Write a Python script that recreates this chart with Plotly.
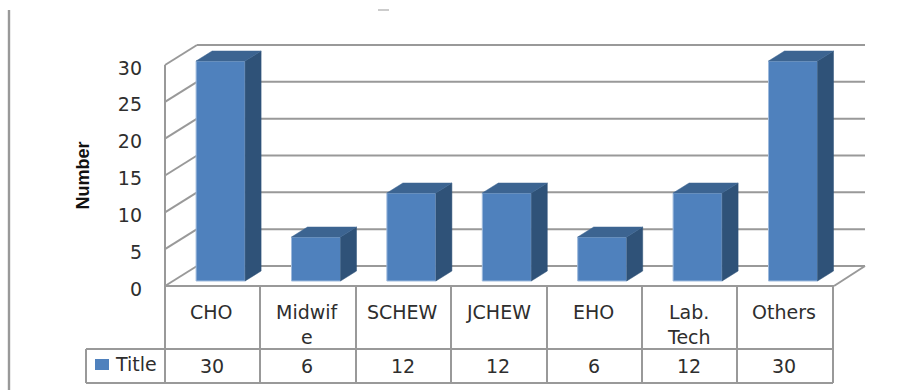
# Staff cadre counts: pseudo-3D column chart with an attached data table.
import plotly.graph_objects as go

categories = [["CHO"], ["Midwif", "e"], ["SCHEW"], ["JCHEW"], ["EHO"], ["Lab.", "Tech"], ["Others"]]
values = [30, 6, 12, 12, 6, 12, 30]
series_name = "Title"
y_ticks = [0, 5, 10, 15, 20, 25, 30]
axis_title = "Number"

W, H = 911, 390
FONT = "DejaVu Sans"
GREY = "#999999"
TEXT = "#2e2e2e"
FRONT, SIDE, TOP = "#4F81BD", "#2F5278", "#3C6491"
FONT_SIZE = 19

# Horizontal scale: one category per unit, integers sit on the column centres.
PX_X0, PX_PER_CAT = 220.6, 95.4
x_range = [-PX_X0 / PX_PER_CAT, (W - PX_X0) / PX_PER_CAT]


def xu(px):
    return (px - PX_X0) / PX_PER_CAT


# Front wall scale carries the tick labels, column scale sits slightly behind it.
wall_unit = 221 / 30
bar_unit = 220 / 30
wall_range = [-(H - 286) / wall_unit, 286 / wall_unit]
bar_range = [-(H - 281) / bar_unit, 281 / bar_unit]

half = 49 / 95.4 / 2
depth_x = 16 / PX_PER_CAT
depth_y = 10 / bar_unit
x_front_l, x_back_l, x_front_r, x_back_r = xu(165), xu(197), xu(834), xu(865)
wall_rise = 20 / wall_unit

fig = go.Figure()

# Flat front faces of the columns.
xs = list(range(len(values)))
fig.add_trace(go.Bar(
    x=xs, y=values, width=2 * half, yaxis="y2", name=series_name,
    marker=dict(color=FRONT, line=dict(color="#9DB9DC", width=1)),
    hoverinfo="skip",
))

# Side and top faces, offset from each column's value.
for x, v in zip(xs, values):
    r = x + half
    l = x - half
    fig.add_trace(go.Scatter(
        x=[r, r + depth_x, r + depth_x, r, r],
        y=[0, depth_y, v + depth_y, v, 0],
        yaxis="y2", mode="lines", fill="toself", fillcolor=SIDE,
        line=dict(color=SIDE, width=0.5), hoverinfo="skip",
    ))
    fig.add_trace(go.Scatter(
        x=[l, l + depth_x, r + depth_x, r, l],
        y=[v, v + depth_y, v + depth_y, v, v],
        yaxis="y2", mode="lines", fill="toself", fillcolor=TOP,
        line=dict(color=TOP, width=0.5), hoverinfo="skip",
    ))

shapes = []


def seg(x0, y0, x1, y1, xref="x", yref="y", layer="below", width=2):
    shapes.append(dict(type="line", x0=x0, y0=y0, x1=x1, y1=y1, xref=xref, yref=yref,
                       layer=layer, line=dict(color=GREY, width=width)))


# Walls and gridlines behind the columns.
for t in y_ticks:
    seg(x_front_l, t, x_back_l, t + wall_rise)
    if t > 0:
        seg(x_back_l, t + wall_rise, x_back_r, t + wall_rise)
seg(x_front_l, 0, x_front_l, y_ticks[-1])
seg(x_back_l, wall_rise, x_back_r, wall_rise)
seg(x_back_r, wall_rise, x_front_r, 0)
seg(x_front_l, 0, x_front_r, 0)

# Data table grid, measured in paper fractions.
def px(p):
    return p / W


def py(p):
    return 1 - p / H


TABLE_L, ROW_TOP, ROW_MID, ROW_BOT = 86, 286, 349, 383
col_edges = [165, 260, 356, 451, 547, 642, 737, 833]
for e in col_edges:
    seg(px(e), py(ROW_TOP), px(e), py(ROW_BOT), "paper", "paper", "above")
seg(px(TABLE_L), py(ROW_MID), px(TABLE_L), py(ROW_BOT), "paper", "paper", "above")
seg(px(TABLE_L), py(ROW_MID), px(833), py(ROW_MID), "paper", "paper", "above")
seg(px(TABLE_L), py(ROW_BOT), px(833), py(ROW_BOT), "paper", "paper", "above")

# Page rule on the left and the clipped stroke at the top.
seg(px(9), py(10), px(9), py(390), "paper", "paper", "below", 2.4)
seg(px(378), py(10), px(389), py(10), "paper", "paper", "below", 1)

# Legend key.
shapes.append(dict(type="rect", xref="paper", yref="paper", x0=px(95), x1=px(109),
                   y0=py(370), y1=py(359), fillcolor=FRONT, line=dict(width=0), layer="above"))

annotations = []


def note(text, x, y, size=FONT_SIZE, xanchor="center"):
    annotations.append(dict(text=text, x=px(x), y=py(y), xref="paper", yref="paper",
                            showarrow=False, xanchor=xanchor, yanchor="middle",
                            font=dict(family=FONT, size=size, color=TEXT)))


# Table text.
for i, (lines, v) in enumerate(zip(categories, values)):
    cx = (col_edges[i] + col_edges[i + 1]) / 2
    for j, line in enumerate(lines):
        note(line, cx - 1, 312 + 25 * j)
    note(str(v), cx - 1, 366)
note(series_name, 113, 364, size=19, xanchor="left")

# Rotated axis title.
annotations.append(dict(text=f"<b>{axis_title}</b>", x=px(83), y=py(175.5), xref="paper", yref="paper",
                        showarrow=False, textangle=-90, xanchor="center", yanchor="middle",
                        font=dict(family="Liberation Sans", size=18, color="#111111")))

fig.update_layout(
    width=W, height=H, margin=dict(l=0, r=0, t=0, b=0),
    paper_bgcolor="white", plot_bgcolor="white", showlegend=False,
    xaxis=dict(range=x_range, visible=False, domain=[0, 1]),
    yaxis=dict(range=wall_range, domain=[0, 1], anchor="free", position=px(142), side="left",
               tickvals=y_ticks, ticks="", showline=False, showgrid=False, zeroline=False,
               ticklabelshift=3,
               tickfont=dict(family=FONT, size=FONT_SIZE, color=TEXT)),
    yaxis2=dict(range=bar_range, overlaying="y", visible=False),
    shapes=shapes, annotations=annotations,
)

fig.write_html("out.html")
